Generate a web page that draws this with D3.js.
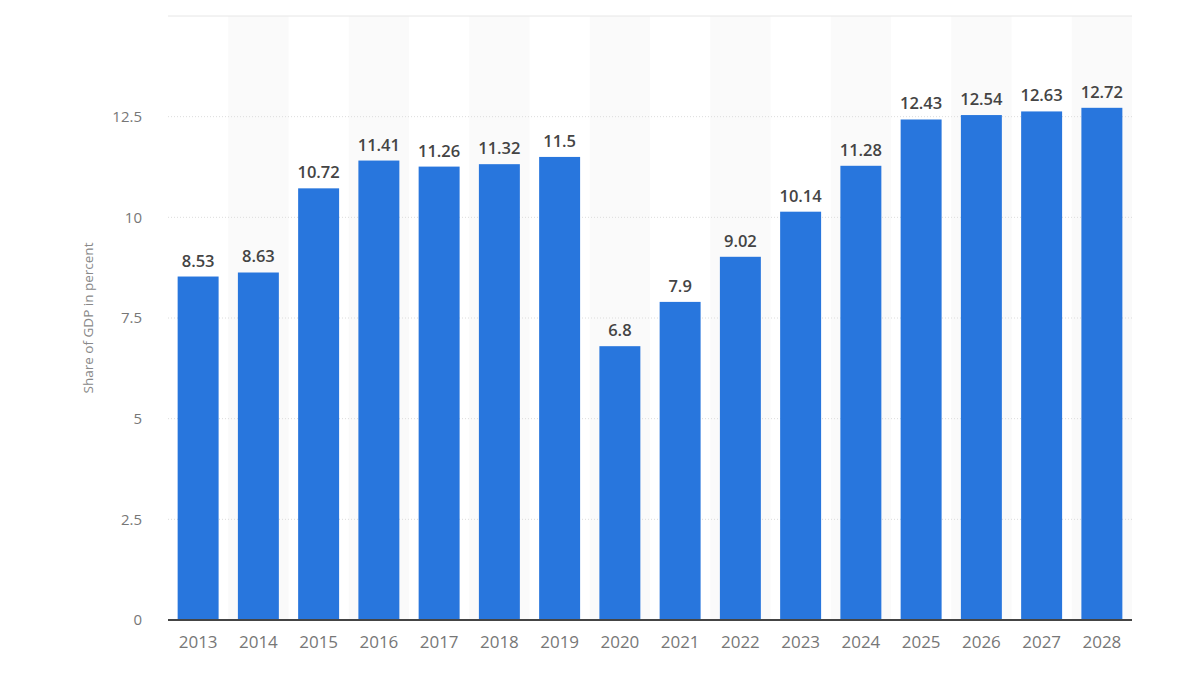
<!DOCTYPE html>
<html>
<head>
<meta charset="utf-8">
<script src="https://cdn.jsdelivr.net/npm/d3@7"></script>
<style>
  body { margin: 0; background: #fff; }
  svg { display: block; font-family: "Open Sans", "Noto Sans", sans-serif; }
</style>
</head>
<body>
<div class="viz"></div>
<script>
// share of GDP, years 2013 - 2028
var years = ['2013','2014','2015','2016','2017','2018','2019','2020','2021','2022','2023','2024','2025','2026','2027','2028'];
var values = [8.53, 8.63, 10.72, 11.41, 11.26, 11.32, 11.5, 6.8, 7.9, 9.02, 10.14, 11.28, 12.43, 12.54, 12.63, 12.72];
var y_ticks = [0, 2.5, 5, 7.5, 10, 12.5];
var y_labels = ['0', '2.5', '5', '7.5', '10', '12.5'];
var y_title = 'Share of GDP in percent';

var width = 1200, chart_height = 675;
var margin = {top: 16, right: 68, bottom: 55, left: 168};

var graph = d3.select('.viz')
    .append('svg')
    .attr('width', width)
    .attr('height', chart_height);

var scale_x = d3.scaleBand()
    .domain(years)
    .range([margin.left, width - margin.right])
    .paddingInner(0.32)
    .paddingOuter(0.16);

var band_x = d3.scaleBand()
    .domain(years)
    .range([margin.left, width - margin.right]);

var scale_y = d3.scaleLinear()
    .domain([0, 15])
    .range([chart_height - margin.bottom, margin.top]);

// alternating column shading
graph.append('g')
    .selectAll('rect')
    .data(years.filter((d, i) => i % 2 == 1))
    .enter()
    .append('rect')
    .attr('x', d => band_x(d))
    .attr('width', band_x.bandwidth())
    .attr('y', scale_y(15))
    .attr('height', scale_y(0) - scale_y(15))
    .attr('fill', '#fafafa');

// grid
graph.append('g')
    .selectAll('line')
    .data(y_ticks.filter(d => d > 0))
    .enter()
    .append('line')
    .attr('x1', margin.left)
    .attr('x2', width - margin.right)
    .attr('y1', d => scale_y(d))
    .attr('y2', d => scale_y(d))
    .attr('stroke', '#dcdcdc')
    .attr('stroke-dasharray', '1,2');

graph.append('line')
    .attr('x1', margin.left)
    .attr('x2', width - margin.right)
    .attr('y1', scale_y(15))
    .attr('y2', scale_y(15))
    .attr('stroke', '#e6e6e6');

// bars
graph.append('g')
    .selectAll('rect')
    .data(values)
    .enter()
    .append('rect')
    .attr('x', (d, i) => scale_x(years[i]))
    .attr('width', scale_x.bandwidth())
    .attr('y', d => scale_y(d))
    .attr('height', d => scale_y(0) - scale_y(d))
    .attr('fill', '#2876dd');

// value labels
graph.append('g')
    .selectAll('text')
    .data(values)
    .enter()
    .append('text')
    .attr('x', (d, i) => scale_x(years[i]) + scale_x.bandwidth() / 2)
    .attr('y', d => scale_y(d) - 10)
    .attr('text-anchor', 'middle')
    .attr('font-size', '16.5px')
    .attr('font-weight', 600)
    .attr('fill', '#444')
    .text(d => d);

// x axis
var x_axis = graph.append('g')
    .attr('transform', `translate(0, ${scale_y(0)})`)
    .call(d3.axisBottom(scale_x).tickSize(0).tickPadding(16));
x_axis.select('.domain').attr('stroke', '#444').attr('stroke-width', 2)
    .attr('d', `M${margin.left},0H${width - margin.right}`);
x_axis.selectAll('text')
    .attr('font-size', '17px')
    .attr('fill', '#777')
    .attr('font-family', '"Open Sans", sans-serif');

// y axis
var y_axis = graph.append('g')
    .attr('transform', `translate(${margin.left - 23}, 0)`)
    .call(d3.axisLeft(scale_y).tickValues(y_ticks).tickFormat((d, i) => y_labels[i]).tickSize(0));
y_axis.select('.domain').remove();
y_axis.selectAll('text')
    .attr('font-size', '15px')
    .attr('fill', '#777')
    .attr('font-family', '"Open Sans", sans-serif');

graph.append('text')
    .attr('transform', `translate(93, ${scale_y(7.5)}) rotate(-90)`)
    .attr('text-anchor', 'middle')
    .attr('font-size', '13.5px')
    .attr('fill', '#888')
    .text(y_title);
</script>
</body>
</html>
